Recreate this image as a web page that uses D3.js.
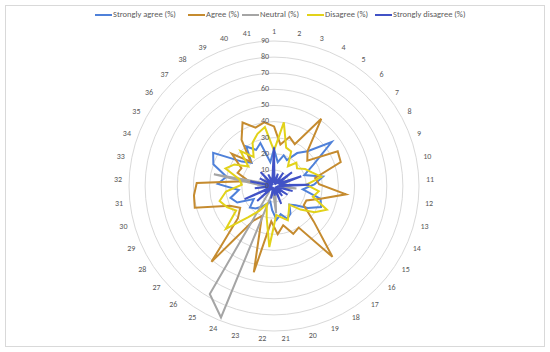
<!DOCTYPE html>
<html><head><meta charset="utf-8">
<script src="https://cdn.jsdelivr.net/npm/d3@7"></script>
<style>body{margin:0;background:#fff;}svg{display:block;font-family:Calibri,"Liberation Sans","Open Sans",sans-serif;}</style>
</head><body>
<svg id="chart" width="550" height="352"></svg>
<script>
const categories = d3.range(1, 42).map(String);
const seriesNames = ["Strongly agree (%)", "Agree (%)", "Neutral (%)", "Disagree (%)", "Strongly disagree (%)"];
const stronglyAgree = [23,15,20,18,25,30,45,28,20,31,25,18,30,32,25,18,15,20,22,18,21,15,10,12,15,18,20,15,25,28,22,35,30,40,43,25,20,30,25,28,15];
const agree = [37,26,32,29,51,30,26,45,44,26,28,45,30,22,22,33,57,30,32,25,30,22,55,20,25,61,30,25,30,51,50,48,16,24,23,33,21,35,44,38,40];
const neutral = [5,3,4,3,5,4,3,5,11,6,5,14,4,3,5,4,3,4,5,4,17,5,4,88,78,5,4,3,5,4,5,8,38,5,4,6,4,3,4,5,4];
const disagree = [22,40,25,24,15,20,18,22,25,30,20,28,25,36,30,22,15,18,23,20,18,38,20,12,18,25,40,28,32,35,30,20,22,32,28,20,30,22,30,34,37];
const stronglyDisagree = [24,2,8,1,10,2,14,3,18,3,22,2,12,1,10,2,8,1,12,2,6,1,8,2,3,1,14,2,20,1,12,2,15,1,10,2,12,1,8,2,6];
const tickValues = [0,10,20,30,40,50,60,70,80,90];
const colors = ["#4F81D9", "#C58B2F", "#A5A5A5", "#E2D21A", "#4152C6"];
const seriesData = [stronglyAgree, agree, neutral, disagree, stronglyDisagree];

const svg = d3.select("#chart");
const cx = 274, cy = 186, R = 145;
svg.append("rect").attr("x", 5.5).attr("y", 5.5).attr("width", 539).attr("height", 341)
  .attr("fill", "#fff").attr("stroke", "#D9D9D9");

const r = d3.scaleLinear().domain([0, 90]).range([0, R]);
const angle = d3.scaleLinear().domain([0, categories.length]).range([0, 2 * Math.PI]);
const g = svg.append("g").attr("transform", `translate(${cx},${cy})`);

// grid circles
g.selectAll("circle.grid").data(tickValues.filter(v => v > 0)).join("circle")
  .attr("class", "grid").attr("r", d => r(d)).attr("fill", "none")
  .attr("stroke", "#D9D9D9").attr("stroke-width", 1);

// series
const line = d3.lineRadial().angle((d, i) => angle(i)).radius(d => r(d)).curve(d3.curveLinearClosed);
g.selectAll("path.series").data(seriesData).join("path")
  .attr("class", "series").attr("d", d => line(d)).attr("fill", "none")
  .attr("stroke", (d, i) => colors[i]).attr("stroke-width", 2).attr("stroke-linejoin", "miter");

// tick labels
g.selectAll("text.tick").data(tickValues).join("text")
  .attr("class", "tick").attr("x", -5).attr("y", d => -r(d))
  .attr("text-anchor", "end").attr("dominant-baseline", "middle")
  .attr("font-size", 8).attr("fill", "#595959").text(d => d);

// category labels
g.selectAll("text.cat").data(categories).join("text")
  .attr("class", "cat")
  .each(function(d, i) {
    const a = angle(i), s = Math.sin(a), c = Math.cos(a);
    const rr = R + 7;
    d3.select(this).attr("x", rr * s).attr("y", -rr * c - c * 2)
      .attr("text-anchor", Math.abs(s) < 0.15 ? "middle" : (s > 0 ? "start" : "end"));
  })
  .attr("dominant-baseline", "middle").attr("font-size", 8).attr("fill", "#595959").text(d => d);

// legend
const legendX = [95, 188, 242, 307, 375];
const legend = svg.append("g").selectAll("g").data(seriesNames).join("g")
  .attr("transform", (d, i) => `translate(${legendX[i]},15)`);
legend.append("line").attr("x1", 0).attr("x2", 17).attr("y1", 0).attr("y2", 0)
  .attr("stroke", (d, i) => colors[i]).attr("stroke-width", 2);
legend.append("text").attr("x", 18).attr("y", 0).attr("dominant-baseline", "middle")
  .attr("font-size", 8.5).attr("fill", "#595959").text(d => d);
</script>
</body></html>
